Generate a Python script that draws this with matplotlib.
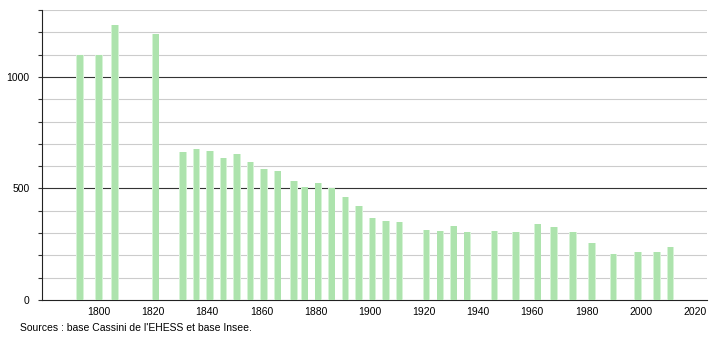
import matplotlib
matplotlib.use("Agg")
import matplotlib.pyplot as plt
from matplotlib.ticker import MultipleLocator, FixedLocator

years = [1793, 1800, 1806, 1821, 1831, 1836, 1841, 1846, 1851, 1856,
         1861, 1866, 1872, 1876, 1881, 1886, 1891, 1896, 1901, 1906,
         1911, 1921, 1926, 1931, 1936, 1946, 1954, 1962, 1968, 1975,
         1982, 1990, 1999, 2006, 2011]
population = [1097, 1097, 1232, 1193, 664, 677, 667, 637, 655, 619,
              587, 577, 534, 505, 523, 502, 462, 422, 368, 354,
              350, 314, 309, 331, 303, 311, 303, 341, 329, 307,
              255, 204, 216, 217, 236]
xticks = list(range(1800, 2021, 20))
yticks = [0, 500, 1000]
source_text = "Sources : base Cassini de l'EHESS et base Insee."

plt.rcParams['font.family'] = ['Liberation Sans', 'DejaVu Sans']

fig = plt.figure(figsize=(7.1, 3.4), dpi=100)
ax = fig.add_axes([42 / 710, 40 / 340, 665 / 710, 290 / 340])

# soft edged bars: wide pale bar + narrower core
ax.bar(years, population, width=2.7, color='#d6f3d6', linewidth=0, zorder=3)
ax.bar(years, population, width=2.1, color='#ade3ad', linewidth=0, zorder=4)

ax.set_xlim(1779, 2024.5)
ax.set_ylim(0, 1300)

# grid lines
for v in range(100, 1301, 100):
    if v % 500 == 0:
        ax.axhline(v, color='#333333', lw=0.8, zorder=2)
    else:
        ax.axhline(v, color='#cccccc', lw=0.8, zorder=1)

ax.yaxis.set_major_locator(FixedLocator(yticks))
ax.yaxis.set_minor_locator(MultipleLocator(100))
ax.xaxis.set_major_locator(FixedLocator(xticks))

ax.tick_params(axis='y', which='both', direction='out', length=3,
               width=0.8, color='#333333', labelsize=7.5, pad=6)
ax.tick_params(axis='x', which='both', length=0, labelsize=7.5, pad=5)

for s in ['top', 'right']:
    ax.spines[s].set_visible(False)
ax.spines['left'].set_color('#222222')
ax.spines['bottom'].set_color('#222222')
ax.spines['left'].set_linewidth(0.8)
ax.spines['bottom'].set_linewidth(0.8)

fig.text(20 / 710, 1 - 328 / 340, source_text, fontsize=7.5,
         va='center', ha='left')

fig.savefig("out.png", dpi=100)
